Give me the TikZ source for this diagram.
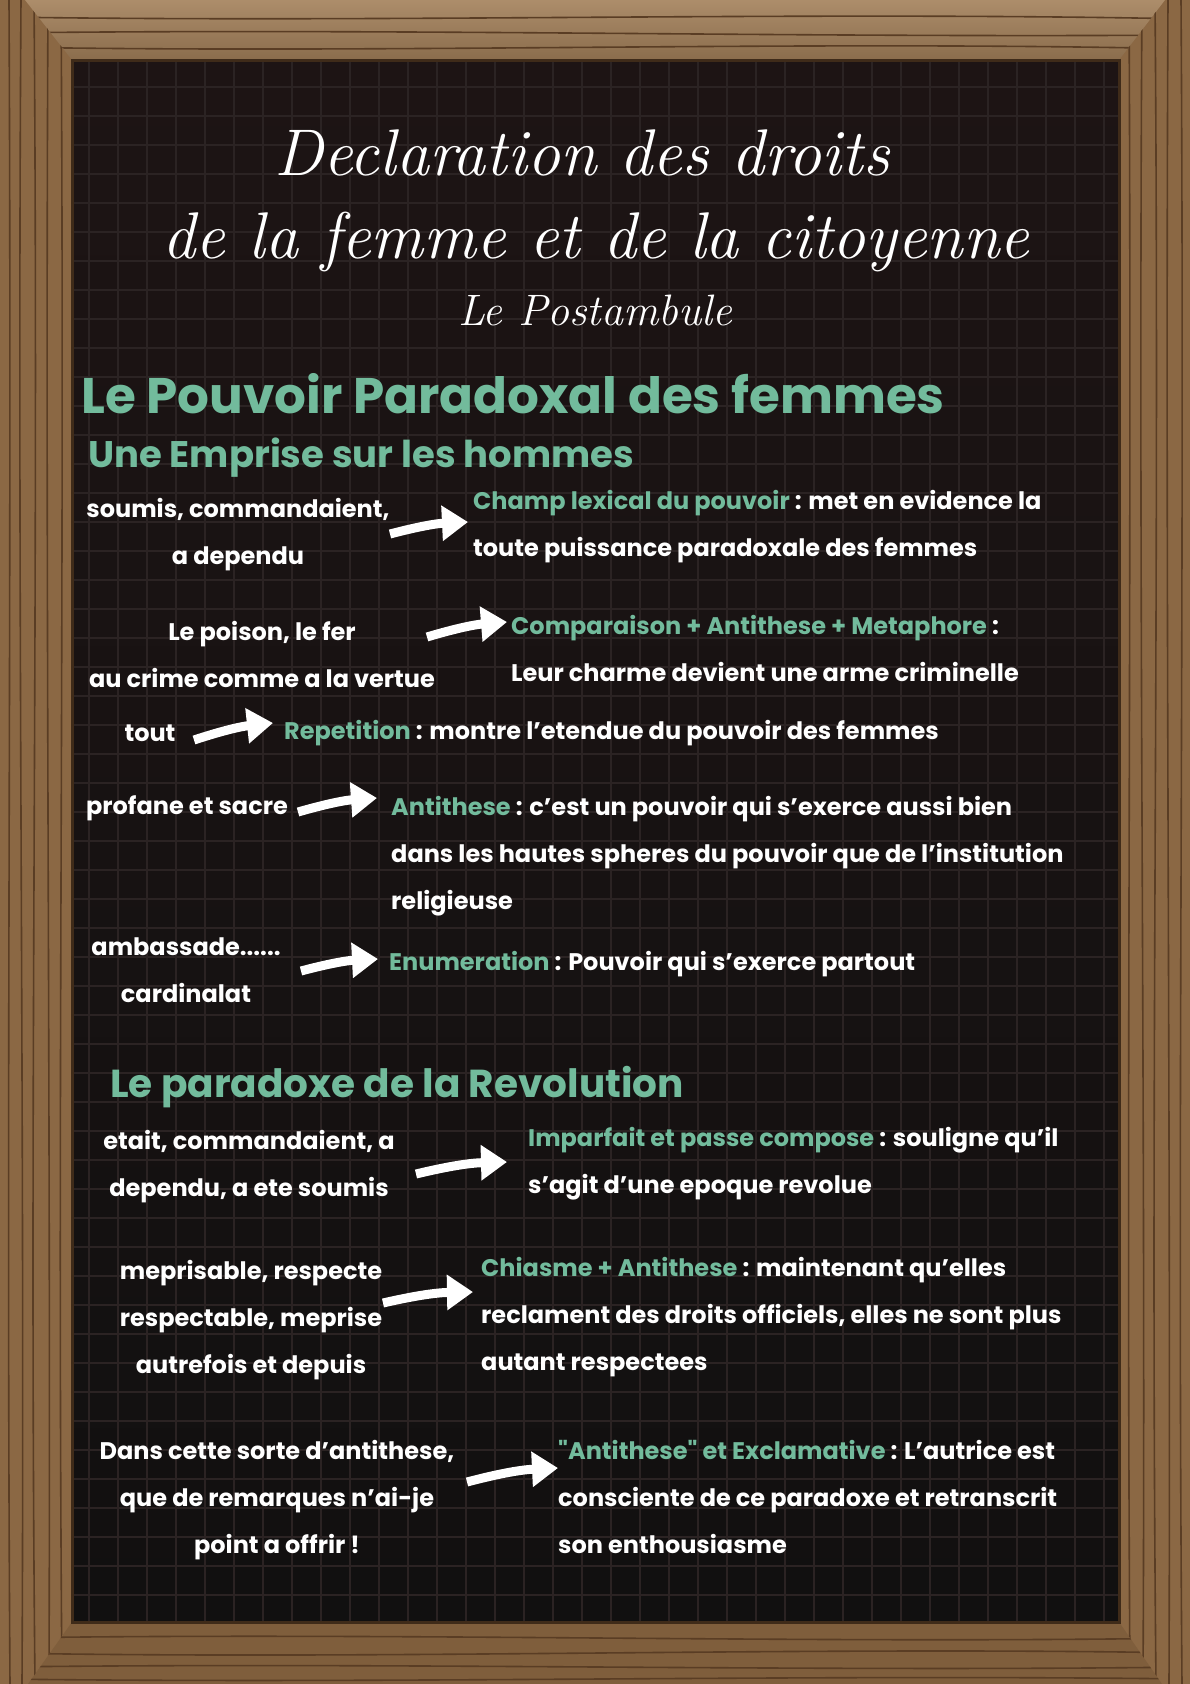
\documentclass[tikz,border=0pt]{standalone}
\usepackage{fontspec}
\usetikzlibrary{arrows.meta}
\newfontfamily\hand{Poppins}
\definecolor{board}{HTML}{111010}
\definecolor{boardtop}{HTML}{1D1414}
\definecolor{chalkgrid}{HTML}{2B2323}
\definecolor{mint}{HTML}{72BB9C}
\definecolor{wood}{HTML}{8B6844}
\definecolor{woodlight}{HTML}{A3805A}
\definecolor{woodlow}{HTML}{7F5E3C}
\definecolor{wooddark}{HTML}{5A3D24}
\newcommand{\procede}[1]{{\color{mint}#1}}
\tikzset{
  titre/.style={white, inner sep=0pt, anchor=base, font=\itshape\fontsize{66}{66}\selectfont},
  rubrique/.style={mint, inner sep=0pt, anchor=base west, font=\hand\bfseries\fontsize{50}{50}\selectfont},
  sousrubrique/.style={mint, inner sep=0pt, anchor=base west, font=\hand\bfseries\fontsize{37}{37}\selectfont},
  mot/.style={white, inner sep=0pt, align=center, font=\hand\bfseries\fontsize{24}{47}\selectfont},
  sens/.style={white, inner sep=0pt, align=left, anchor=west, font=\hand\bfseries\fontsize{24}{47}\selectfont},
  fleche/.style={white, line width=9pt, -{Triangle[length=26pt,width=34pt]}},
  grain/.style={wooddark, line width=1.6pt},
  gridline/.style={chalkgrid, line width=1.5pt},
}
\begin{document}
\begin{tikzpicture}[x=1pt,y=-1pt]
  \useasboundingbox (0,0) rectangle (1190,1684);
  % frame
  \fill[wood] (0,0) rectangle (1190,1684);
  \shade[top color=woodlight!90!white, bottom color=woodlight!85!black] (25,0) -- (1165,0) -- (1119,60) -- (72,60) -- cycle;
  \fill[woodlow] (28,1684) -- (1162,1684) -- (1119,1622) -- (72,1622) -- cycle;
  \begin{scope}
    \clip (25,0) -- (1165,0) -- (1119,60) -- (72,60) -- cycle;
    \foreach \y/\d in {17/6,33/-5,47/7}
      \draw[grain] (0,\y) .. controls (400,\y+\d) and (800,\y-\d) .. (1190,\y+2);
  \end{scope}
  \begin{scope}
    \clip (28,1684) -- (1162,1684) -- (1119,1622) -- (72,1622) -- cycle;
    \foreach \y/\d in {1638/-6,1653/7,1667/-5,1679/5}
      \draw[grain] (0,\y) .. controls (400,\y+\d) and (800,\y-\d) .. (1190,\y);
  \end{scope}
  \begin{scope}
    \clip (0,0) -- (25,0) -- (72,60) -- (72,1622) -- (28,1684) -- (0,1684) -- cycle;
    \foreach \x/\d in {9/3,21/-4,34/5,48/-3,61/4}
      \draw[grain] (\x,0) .. controls (\x+\d,600) and (\x-\d,1100) .. (\x+1,1684);
  \end{scope}
  \begin{scope}
    \clip (1190,0) -- (1165,0) -- (1119,60) -- (1119,1622) -- (1162,1684) -- (1190,1684) -- cycle;
    \foreach \x/\d in {1129/3,1142/-4,1155/5,1168/-3,1181/4}
      \draw[grain] (\x,0) .. controls (\x+\d,600) and (\x-\d,1100) .. (\x+1,1684);
  \end{scope}
  % board
  \shade[top color=boardtop, bottom color=board] (72,60) rectangle (1119,1622);
  \foreach \gx in {89,118,...,1110}
    \draw[gridline] (\gx,60) -- (\gx,1622);
  \foreach \gy in {87,116,...,1615}
    \draw[gridline] (72,\gy) -- (1119,\gy);
  \draw[wooddark!70!black, line width=3pt] (72,60) rectangle (1119,1622);

  % titles
  \node[titre] (titre1) at (582,175) {Declaration des droits};
  \node[titre] (titre2) at (596,258) {de la femme et de la citoyenne};
  \node[titre, font=\itshape\fontsize{44}{44}\selectfont] (postambule) at (595,325) {Le Postambule};

  \node[rubrique] (pouvoir) at (81,413) {Le Pouvoir Paradoxal des femmes};
  \node[sousrubrique] (emprise) at (88,467) {Une Emprise sur les hommes};

  % une emprise sur les hommes
  \node[mot] (soumis) at (238,535) {soumis, commandaient,\\a dependu};
  \node[sens] (champ) at (473,527) {\procede{Champ lexical du pouvoir} : met en evidence la\\toute puissance paradoxale des femmes};
  \coordinate (f1a) at (390,534); \coordinate (f1b) at (468,522);
  \draw[fleche] (f1a) to[bend left=6] (f1b);

  \node[mot] (poison) at (262,654) {Le poison, le fer\\au crime comme a la vertue};
  \node[sens] (comparaison) at (511,648) {\procede{Comparaison + Antithese + Metaphore} :\\Leur charme devient une arme criminelle};
  \coordinate (f2a) at (427,637); \coordinate (f2b) at (507,622);
  \draw[fleche] (f2a) to[bend left=6] (f2b);

  \node[mot] (tout) at (150,733) {tout};
  \node[sens] (repetition) at (284,733) {\procede{Repetition} : montre l’etendue du pouvoir des femmes};
  \coordinate (f3a) at (194,740); \coordinate (f3b) at (273,723);
  \draw[fleche] (f3a) to[bend left=6] (f3b);

  \node[mot] (profane) at (187,808) {profane et sacre};
  \node[sens] (antithese) at (391,856) {\procede{Antithese} : c’est un pouvoir qui s’exerce aussi bien\\dans les hautes spheres du pouvoir que de l’institution\\religieuse};
  \coordinate (f4a) at (298,812); \coordinate (f4b) at (377,798);
  \draw[fleche] (f4a) to[bend left=6] (f4b);

  \node[mot] (ambassade) at (186,970) {ambassade......\\cardinalat};
  \node[sens] (enumeration) at (389,964) {\procede{Enumeration} : Pouvoir qui s’exerce partout};
  \coordinate (f5a) at (301,971); \coordinate (f5b) at (378,959);
  \draw[fleche] (f5a) to[bend left=6] (f5b);

  % le paradoxe de la revolution
  \node[sousrubrique, font=\hand\bfseries\fontsize{39}{39}\selectfont] (revolution) at (110,1097) {Le paradoxe de la Revolution};

  \node[mot] (etait) at (249,1167) {etait, commandaient, a\\dependu, a ete soumis};
  \node[sens] (imparfait) at (528,1164) {\procede{Imparfait et passe compose} : souligne qu’il\\s’agit d’une epoque revolue};
  \coordinate (f6a) at (416,1174); \coordinate (f6b) at (507,1162);
  \draw[fleche] (f6a) to[bend left=6] (f6b);

  \node[mot] (meprisable) at (251,1320) {meprisable, respecte\\respectable, meprise\\autrefois et depuis};
  \node[sens] (chiasme) at (481,1317) {\procede{Chiasme + Antithese} : maintenant qu’elles\\reclament des droits officiels, elles ne sont plus\\autant respectees};
  \coordinate (f7a) at (383,1303); \coordinate (f7b) at (473,1292);
  \draw[fleche] (f7a) to[bend left=6] (f7b);

  \node[mot] (sorte) at (277,1500) {Dans cette sorte d’antithese,\\que de remarques n’ai-je\\point a offrir !};
  \node[sens] (exclamative) at (558,1497) {\procede{"Antithese" et Exclamative} : L’autrice est\\consciente de ce paradoxe et retranscrit\\son enthousiasme};
  \coordinate (f8a) at (467,1482); \coordinate (f8b) at (558,1468);
  \draw[fleche] (f8a) to[bend left=6] (f8b);
\end{tikzpicture}
\end{document}
